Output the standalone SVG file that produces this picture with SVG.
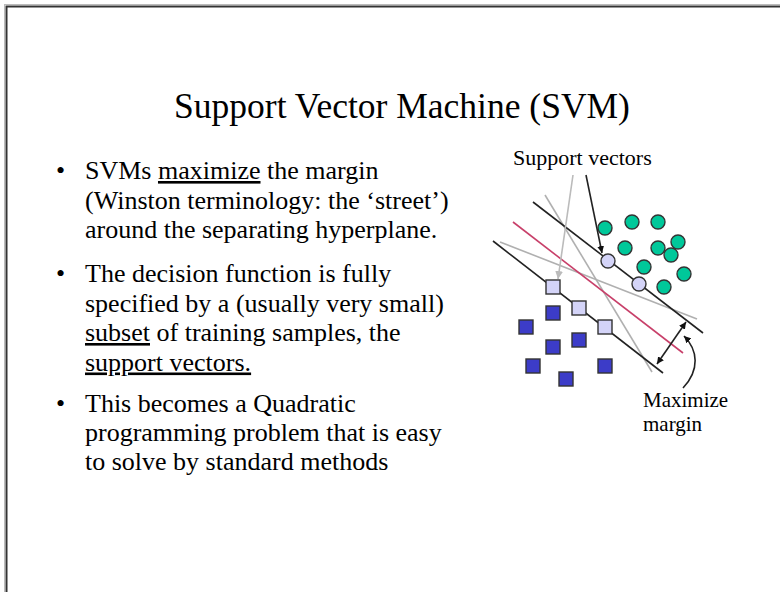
<svg xmlns="http://www.w3.org/2000/svg" width="780" height="592" viewBox="0 0 780 592">
<defs>
<style>
.t{font-family:"Liberation Serif","Times New Roman",serif;fill:#000}
.body{font-size:26px}
.lbl{font-size:21px}
.u{text-decoration:underline}
.blk{stroke:#222;stroke-width:1.6;fill:none}
.gry{stroke:#b0b0b0;stroke-width:1.6;fill:none}
.red{stroke:#c8406a;stroke-width:1.6;fill:none}
.pos{fill:#00c89a;stroke:#333;stroke-width:1.4}
.sv{fill:#d4d4f8;stroke:#333;stroke-width:1.4}
.neg{fill:#3c3cc8;stroke:#333;stroke-width:1.4}
</style>
<marker id="ah" viewBox="0 0 10 10" refX="10" refY="5" markerWidth="7" markerHeight="7" orient="auto-start-reverse" markerUnits="userSpaceOnUse"><path d="M0,0 L10,5 L0,10 z" fill="#111"/></marker>
<marker id="ahg" viewBox="0 0 10 10" refX="10" refY="5" markerWidth="8" markerHeight="8" orient="auto" markerUnits="userSpaceOnUse"><path d="M0,0 L10,5 L0,10 z" fill="#bbb"/></marker>
</defs>
<rect width="780" height="592" fill="#fff"/>
<rect x="6.5" y="6.5" width="800" height="600" fill="none" stroke="#333" stroke-width="2"/>
<rect x="4.5" y="4.5" width="804" height="604" fill="none" stroke="#bbb" stroke-width="1"/>

<g id="title"><text class="t" x="402" y="118" font-size="35.5" text-anchor="middle">Support Vector Machine (SVM)</text></g>

<g id="bullets" class="t body">
<text x="56" y="179">•</text>
<text x="85" y="179">SVMs <tspan class="u">maximize</tspan> the margin</text>
<text x="85" y="209">(Winston terminology: the ‘street’)</text>
<text x="85" y="238">around the separating hyperplane.</text>
<text x="56" y="282">•</text>
<text x="85" y="282">The decision function is fully</text>
<text x="85" y="311.5">specified by a (usually very small)</text>
<text x="85" y="341"><tspan class="u">subset</tspan> of training samples, the</text>
<text x="85" y="370.5"><tspan class="u">support vectors.</tspan></text>
<text x="56" y="411.5">•</text>
<text x="85" y="411.5">This becomes a Quadratic</text>
<text x="85" y="441">programming problem that is easy</text>
<text x="85" y="470">to solve by standard methods</text>
</g>

<g id="connectors">
<line class="gry" x1="545" y1="195" x2="652" y2="372"/>
<line class="gry" x1="500" y1="242" x2="697" y2="319"/>
<line class="red" x1="513" y1="222" x2="683" y2="353"/>
<line class="blk" x1="533" y1="202" x2="703" y2="333"/>
<line class="blk" x1="493" y1="241" x2="663" y2="373"/>
<line stroke="#bbb" stroke-width="1.6" x1="573" y1="175" x2="558" y2="279" marker-end="url(#ahg)"/>
<line class="blk" x1="586" y1="175" x2="602" y2="253" marker-end="url(#ah)"/>
<line class="blk" x1="686" y1="322" x2="657" y2="364" marker-start="url(#ah)" marker-end="url(#ah)"/>
<path class="blk" d="M683,388 C700,370 698,350 684,336" marker-end="url(#ah)"/>
</g>

<g id="positives">
<circle class="pos" cx="605" cy="228" r="7"/>
<circle class="pos" cx="632" cy="222" r="7"/>
<circle class="pos" cx="658" cy="222" r="7"/>
<circle class="pos" cx="625" cy="248" r="7"/>
<circle class="pos" cx="658" cy="248" r="7"/>
<circle class="pos" cx="678" cy="242" r="7"/>
<circle class="pos" cx="671" cy="255" r="7"/>
<circle class="pos" cx="644" cy="267" r="7"/>
<circle class="pos" cx="684" cy="274" r="7"/>
<circle class="pos" cx="664" cy="287" r="7"/>
<circle class="sv" cx="608" cy="261" r="7"/>
<circle class="sv" cx="639" cy="284" r="7"/>
</g>

<g id="negatives">
<rect class="sv" x="546" y="280" width="14" height="14"/>
<rect class="sv" x="572" y="301" width="14" height="14"/>
<rect class="sv" x="598" y="320" width="14" height="14"/>
<rect class="neg" x="546" y="306" width="14" height="14"/>
<rect class="neg" x="519" y="320" width="14" height="14"/>
<rect class="neg" x="546" y="340" width="14" height="14"/>
<rect class="neg" x="572" y="333" width="14" height="14"/>
<rect class="neg" x="526" y="359" width="14" height="14"/>
<rect class="neg" x="598" y="359" width="14" height="14"/>
<rect class="neg" x="559" y="372" width="14" height="14"/>
</g>

<g id="labels" class="t lbl">
<text x="513" y="165" font-size="22">Support vectors</text>
<text x="643" y="407">Maximize</text>
<text x="643" y="431">margin</text>
</g>
</svg>
